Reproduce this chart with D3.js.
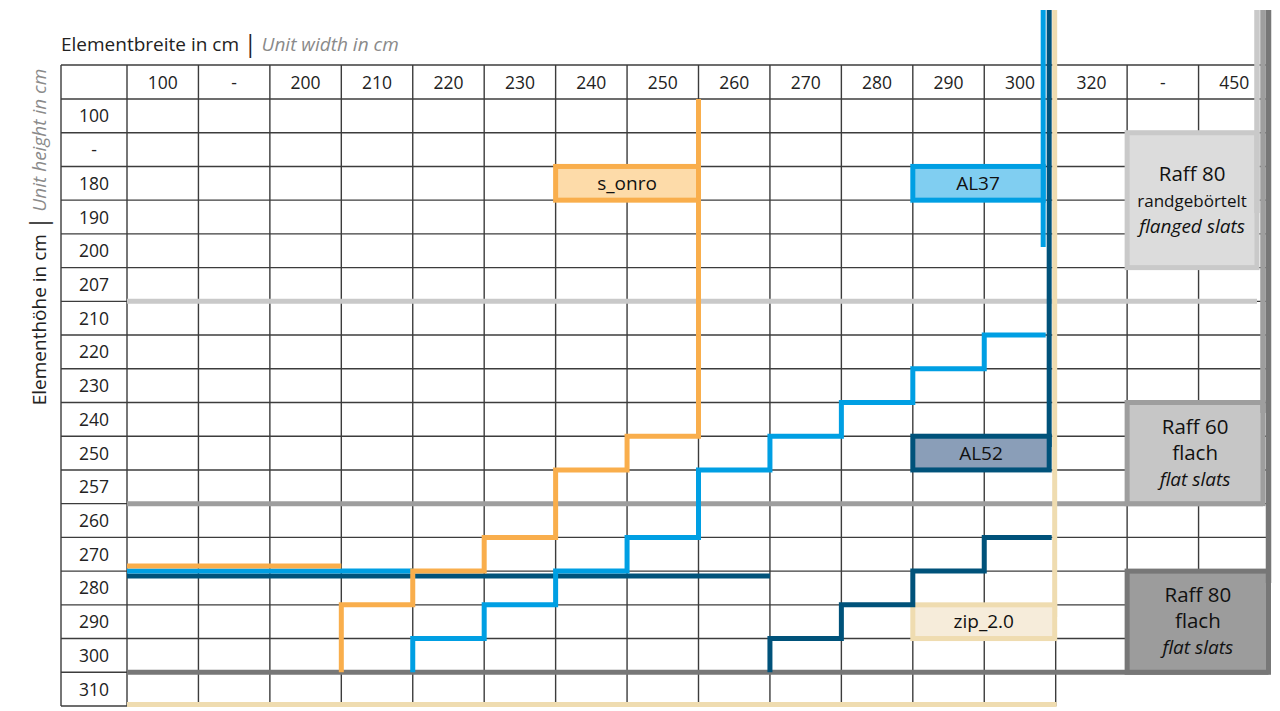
<!DOCTYPE html>
<html>
<head>
<meta charset="utf-8">
<script src="https://cdn.jsdelivr.net/npm/d3@7"></script>
<style>
  body { margin: 0; background: #fff; }
  svg { display: block; font-family: "Open Sans", "Noto Sans", sans-serif; }
</style>
</head>
<body>
<div id="chart"></div>
<script>
(function(){

    var widthLabels  = ["100","-","200","210","220","230","240","250","260","270","280","290","300","320","-","450"];
    var heightLabels = ["100","-","180","190","200","207","210","220","230","240","250","257","260","270","280","290","300","310"];

    // max. Breite je Höhe (staircase)
    var sOnroHeight = ["100","-","180","190","200","207","210","220","230","240","250","257","260","270","280","290","300"];
    var sOnroWidth  = ["250","250","250","250","250","250","250","250","250","250","240","230","230","220","210","200","200"];

    var al37Height = ["220","230","240","250","257","260","270","280","290","300"];
    var al37Width  = ["290","280","270","260","250","250","240","230","220","210"];

    var al52Height = ["270","280","290","300"];
    var al52Width  = ["290","280","270","260"];

    // min. line at 270/280
    var minWidth = {sonro: "200", al37: "210", al52: "260"};

    var canvas = d3.select("#chart")
                .append("svg")
                .attr("width",1280)
                .attr("height",711);

    var nCol = widthLabels.length, nRow = heightLabels.length;

    var xEdge = d3.scaleLinear().domain([0,nCol]).range([127,1270]);
    var yEdge = d3.scaleLinear().domain([0,nRow]).range([99,706]);
    var left = 61, headTop = 65, topY = 10;

    function wi(l){ return widthLabels.indexOf(l); }
    function hi(l){ return heightLabels.indexOf(l); }

    /* --- grid --- */
    var grid = canvas.append("g").attr("stroke","#3c3c3c").attr("stroke-width",1.4);

    grid.append("line").attr("x1",left).attr("x2",left).attr("y1",headTop).attr("y2",yEdge(nRow));
    for(var i = 0; i <= nCol; i++){
        grid.append("line")
            .attr("x1",xEdge(i)).attr("x2",xEdge(i))
            .attr("y1",headTop)
            .attr("y2",i <= 13 ? yEdge(nRow) : yEdge(nRow-1));
    }
    grid.append("line").attr("x1",left).attr("x2",xEdge(nCol)).attr("y1",headTop).attr("y2",headTop);
    for(var j = 0; j <= nRow; j++){
        grid.append("line")
            .attr("x1",left)
            .attr("x2",j < nRow ? xEdge(nCol) : xEdge(13))
            .attr("y1",yEdge(j)).attr("y2",yEdge(j));
    }

    canvas.append("g").selectAll("text").data(widthLabels).join("text")
        .attr("x",function(d,i){ return xEdge(i+0.5); })
        .attr("y",(headTop+yEdge(0))/2 + 6.5)
        .attr("text-anchor","middle")
        .attr("font-size",17.5).attr("fill","#222")
        .text(function(d){ return d; });

    canvas.append("g").selectAll("text").data(heightLabels).join("text")
        .attr("x",(left+xEdge(0))/2)
        .attr("y",function(d,i){ return yEdge(i+0.5) + 6.5; })
        .attr("text-anchor","middle")
        .attr("font-size",17.5).attr("fill","#222")
        .text(function(d){ return d; });

    /* --- titles --- */
    var t = canvas.append("text").attr("x",left).attr("y",51).attr("font-size",19).attr("fill","#222");
    t.append("tspan").text("Elementbreite in cm ");
    t.append("tspan").attr("font-size",23).attr("dy",1).text("|");
    t.append("tspan").attr("dy",-1).attr("font-style","italic").attr("fill","#8a8a8a").text(" Unit width in cm");

    var ty = canvas.append("text")
        .attr("transform","translate(46,237) rotate(-90)")
        .attr("text-anchor","middle").attr("font-size",19).attr("fill","#222");
    ty.append("tspan").text("Elementhöhe in cm ");
    ty.append("tspan").attr("font-size",23).attr("dy",1).text("|");
    ty.append("tspan").attr("dy",-1).attr("font-style","italic").attr("fill","#8a8a8a").text(" Unit height in cm");

    /* --- grey groups (Raff) --- */
    var greys = [
        {row: "207", top: "-",   bottom: "200", x: -13,  end: 213, stroke: "#c9c9c9", fill: "#dcdcdc",
         lines: [["Raff 80",20.5,""],["randgebörtelt",17,""],["flanged slats",19,"italic"]]},
        {row: "257", top: "240", bottom: "257", x: -7,   end: 413, stroke: "#9e9e9e", fill: "#c6c6c6",
         lines: [["Raff 60",20.5,""],["flach",20.5,""],["flat slats",19,"italic"]]},
        {row: "300", top: "280", bottom: "300", x: -1.5, end: 583, stroke: "#777777", fill: "#9c9c9c",
         lines: [["Raff 80",20.5,""],["flach",20.5,""],["flat slats",19,"italic"]]}
    ];

    for(var g of greys){
        var cx = xEdge(nCol) + g.x;
        canvas.append("line")
            .attr("x1",xEdge(0)).attr("x2",cx)
            .attr("y1",yEdge(hi(g.row)+1)).attr("y2",yEdge(hi(g.row)+1))
            .attr("stroke",g.stroke).attr("stroke-width",5);
    }
    for(var g of greys){
        var cx = xEdge(nCol) + g.x;
        var y0 = yEdge(hi(g.top)), y1 = yEdge(hi(g.bottom)+1), x0 = xEdge(14);
        canvas.append("rect")
            .attr("x",x0).attr("y",y0).attr("width",cx-x0).attr("height",y1-y0)
            .attr("fill",g.fill).attr("stroke",g.stroke).attr("stroke-width",5);
        canvas.append("line")
            .attr("x1",cx).attr("x2",cx).attr("y1",topY).attr("y2",g.end)
            .attr("stroke",g.stroke).attr("stroke-width",5.5);
        var mid = (y0+y1)/2;
        g.lines.forEach(function(l,k){
            canvas.append("text")
                .attr("x",(x0+cx)/2).attr("y",mid + (k-1)*26 + 6.5)
                .attr("text-anchor","middle").attr("font-size",l[1])
                .attr("font-style",l[2]).attr("fill","#111")
                .text(l[0]);
        });
    }

    /* --- products --- */
    var line = d3.line();
    var capBase = xEdge(13);

    function stepPoints(heights, widths, capX){
        var pts = [];
        for(var i = heights.length-1; i >= 0; i--){
            var r = hi(heights[i]);
            var xe = xEdge(wi(widths[i])+1);
            pts.push([xe, yEdge(r+1)], [xe, yEdge(r)]);
        }
        if(capX != null) pts.push([capX, pts[pts.length-1][1]]);
        return pts;
    }

    function seg(pts, color){
        canvas.append("path")
            .attr("d",line(pts))
            .attr("fill","none").attr("stroke",color).attr("stroke-width",5)
            .attr("stroke-linejoin","miter");
    }

    function box(x0, x1, row, color, fill, label){
        var y0 = yEdge(hi(row)), y1 = yEdge(hi(row)+1);
        canvas.append("rect")
            .attr("x",x0).attr("y",y0).attr("width",x1-x0).attr("height",y1-y0)
            .attr("fill",fill).attr("stroke",color).attr("stroke-width",5);
        canvas.append("text")
            .attr("x",(x0+x1)/2).attr("y",(y0+y1)/2 + 6.5)
            .attr("text-anchor","middle").attr("font-size",19).attr("fill","#111")
            .text(label);
    }

    var yMin = yEdge(hi("280"));

    // zip_2.0
    var zipX = capBase - 1;
    seg([[xEdge(0), yEdge(nRow)-1.5],[zipX+2, yEdge(nRow)-1.5]], "#efdcb0");
    seg([[zipX, topY],[zipX, 617]], "#efdcb0");
    box(xEdge(wi("290")), zipX, "290", "#efdcb0", "#f6ecda", "zip_2.0");

    // AL52
    var al52X = capBase - 6.5;
    seg([[xEdge(0), yMin+5],[xEdge(wi(minWidth.al52)+1), yMin+5]], "#00527a");
    seg(stepPoints(al52Height, al52Width, al52X+2.5), "#00527a");
    seg([[al52X, topY],[al52X, 447]], "#00527a");
    box(xEdge(wi("290")), al52X, "250", "#00527a", "#8a9eb8", "AL52");

    // AL37
    var al37X = capBase - 12.5;
    seg([[xEdge(0), yMin],[xEdge(wi(minWidth.al37)+1), yMin]], "#009fe3");
    seg(stepPoints(al37Height, al37Width, al37X+2.5), "#009fe3");
    seg([[al37X, topY],[al37X, 247]], "#009fe3");
    box(xEdge(wi("290")), al37X, "180", "#009fe3", "#80cef1", "AL37");

    // s_onro
    seg([[xEdge(0), yMin-5],[xEdge(wi(minWidth.sonro)+1), yMin-5]], "#f9ae4c");
    seg(stepPoints(sOnroHeight, sOnroWidth), "#f9ae4c");
    box(xEdge(wi("240")), xEdge(wi("250")+1), "180", "#f9ae4c", "#fddba9", "s_onro");

})();
</script>
</body>
</html>
